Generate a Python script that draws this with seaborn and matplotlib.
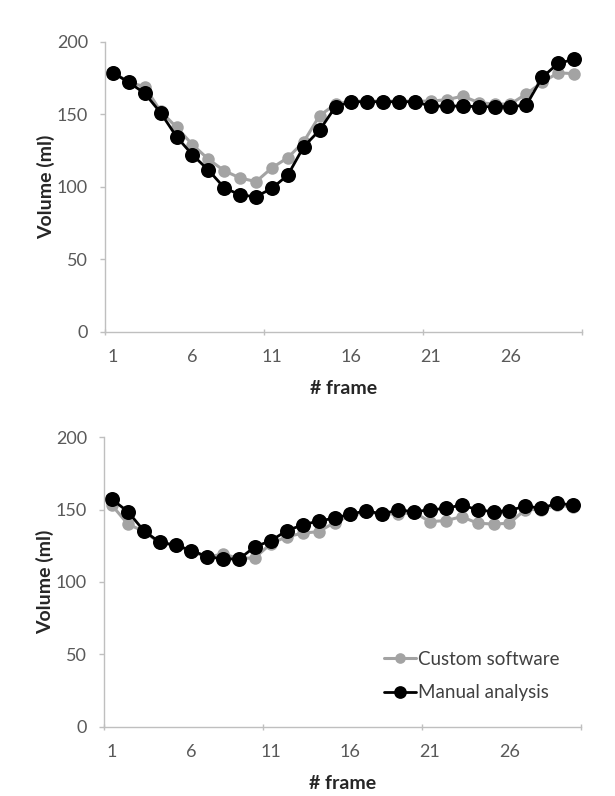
import matplotlib
matplotlib.use("Agg")
import matplotlib.pyplot as plt
import seaborn as sns
import numpy as np

# ---- data ----
frames = list(range(1, 31))

top_custom = [179, 172, 169, 152, 141, 129, 119, 111, 106, 103.5,
              113, 120, 131, 149, 157, 159, 159, 159, 159, 159,
              159, 160, 162.5, 158, 157, 157, 164, 172, 178.5, 178]
top_manual = [178.6, 172, 164.4, 151, 134.5, 122, 111.5, 99.3, 94.3, 93.1,
              98.9, 108, 127.6, 139, 155.2, 158.6, 158.6, 158.6, 158.6, 158.6,
              155.5, 155.6, 155.6, 155.2, 155.2, 155.2, 156.3, 175.4, 185.1, 187.8]

bot_custom = [153, 140, 135, 127, 125, 121, 117, 119.5, 116, 116.8,
              126.5, 131.3, 133.7, 134.8, 141, 146, 148, 147, 147, 148,
              141.7, 142.4, 145.1, 140.6, 140, 140.6, 150, 150, 153, 152]
bot_manual = [157.1, 148.6, 135.5, 127.4, 125.6, 121.7, 117.5, 115.9, 115.9, 124.4,
              128.5, 135.5, 139.4, 142.2, 144, 147, 149.1, 147, 149.8, 148.6,
              149.8, 150.9, 153.2, 149.8, 148.6, 149.3, 152.5, 150.9, 154.4, 153.2]

xtick_labels = ["1", "6", "11", "16", "21", "26"]
ytick_values = [0, 50, 100, 150, 200]
series_names = ["Custom software", "Manual analysis"]

# ---- style ----
sns.set_theme(style="white")
plt.rcParams["font.family"] = ["Lato", "DejaVu Sans"]

GRAY = "#a3a3a3"
BLACK = "#000000"
SPINE = "#bfbfbf"
TICKC = "#595959"

fig = plt.figure(figsize=(6.15, 7.96), dpi=100)
fig.patch.set_facecolor("white")

ax_top = fig.add_axes([0.1707, 0.5833, 0.7756, 0.3643])
ax_bot = fig.add_axes([0.1691, 0.0871, 0.7756, 0.3636])


def draw(ax, custom, manual, legend=False):
    sns.lineplot(x=frames, y=custom, ax=ax, color=GRAY, linewidth=2.2,
                 marker="o", markersize=9, markeredgewidth=0,
                 label=series_names[0], legend=False)
    sns.lineplot(x=frames, y=manual, ax=ax, color=BLACK, linewidth=2.0,
                 marker="o", markersize=10.8, markeredgewidth=0,
                 label=series_names[1], legend=False)
    ax.set_xlim(0.5, 30.5)
    ax.set_ylim(0, 200)
    ax.set_xticks([int(t) for t in xtick_labels])
    ax.set_xticklabels(xtick_labels)
    ax.set_xticks([0.5, 10.5, 20.5, 30.5], minor=True)
    ax.set_yticks(ytick_values)
    ax.set_yticklabels([str(v) for v in ytick_values])
    ax.tick_params(axis="x", which="major", length=0, pad=12.5,
                   labelsize=13, labelcolor=TICKC)
    ax.tick_params(axis="x", which="minor", length=5, width=1,
                   color=SPINE, direction="inout", bottom=True)
    ax.tick_params(axis="y", which="major", length=3.6, width=1, color=SPINE,
                   direction="out", pad=8.6, labelsize=13, labelcolor=TICKC,
                   left=True)
    for s in ["top", "right"]:
        ax.spines[s].set_visible(False)
    for s in ["left", "bottom"]:
        ax.spines[s].set_color(SPINE)
        ax.spines[s].set_linewidth(1)
    ax.set_xlabel("# frame", fontsize=14, fontweight="bold",
                  color="#262626", labelpad=11)
    ax.set_ylabel("Volume (ml)", fontsize=14, fontweight="bold",
                  color="#262626", labelpad=1.5)
    ax.grid(False)
    ax.set_facecolor("white")
    if legend:
        ax.legend(loc="center left",
                  bbox_to_anchor=(367 / 615, 1 - 676 / 796),
                  bbox_transform=fig.transFigure,
                  frameon=False, fontsize=13.5, markerscale=0.85,
                  handlelength=1.7, handletextpad=0.1, labelspacing=0.9,
                  labelcolor="#404040")


draw(ax_top, top_custom, top_manual)
draw(ax_bot, bot_custom, bot_manual, legend=True)

fig.savefig("out.png", dpi=100, facecolor="white")
